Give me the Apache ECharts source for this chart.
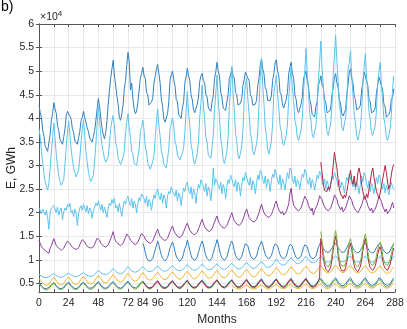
<!DOCTYPE html>
<html>
<head>
<meta charset="utf-8">
<script src="https://cdn.jsdelivr.net/npm/echarts@6/dist/echarts.min.js"></script>
<style>
  html, body { margin: 0; padding: 0; background: #fff; }
  #chart { width: 407px; height: 329px; }
</style>
</head>
<body>
<div id="chart"></div>
<script>
// x tick labels shown (ticks every 12 months), y ticks in units of 10^4 GWh
const xTickLabels = [0, 24, 48, 72, 84, 96, 120, 144, 168, 192, 216, 240, 264, 288]
const yTicks = [0.5, 1, 1.5, 2, 2.5, 3, 3.5, 4, 4.5, 5, 5.5, 6]

// monthly values, 10^4 GWh, one row per year
const blueTop = [
  [4.28,4.12,4.02,3.75,3.62,3.41,3.38,3.30,3.49,3.66,3.97,4.10],
  [4.33,4.20,4.10,3.85,3.74,3.55,3.52,3.45,3.60,3.78,4.05,4.15],
  [4.17,4.05,3.98,3.78,3.70,3.52,3.50,3.45,3.58,3.72,3.95,4.02],
  [4.15,4.02,4.00,3.80,3.72,3.58,3.55,3.50,3.62,3.74,3.95,4.20],
  [4.42,4.25,4.00,3.80,3.65,3.57,3.70,3.95,4.30,4.60,4.85,5.05],
  [5.23,4.92,4.95,4.48,4.30,4.02,3.96,4.10,4.28,4.62,4.80,5.12],
  [5.40,5.20,4.60,4.75,4.40,4.20,4.10,4.15,4.35,4.60,4.85,4.95],
  [5.08,4.90,4.85,4.55,4.50,4.28,4.24,4.35,4.42,4.75,4.88,5.05],
  [5.14,4.95,4.75,4.40,4.25,3.98,3.92,3.89,4.10,4.35,4.80,4.92],
  [5.00,4.82,4.70,4.40,4.35,4.08,4.05,4.00,4.22,4.35,4.75,4.88],
  [5.06,4.90,4.80,4.50,4.40,4.18,4.12,4.10,4.30,4.45,4.78,4.90],
  [4.95,4.80,4.75,4.50,4.45,4.22,4.18,4.15,4.35,4.48,4.85,4.98],
  [5.19,5.00,4.90,4.55,4.45,4.22,4.20,4.17,4.35,4.50,4.85,4.92],
  [5.06,4.90,4.85,4.55,4.50,4.28,4.27,4.32,4.42,4.70,4.82,4.98],
  [5.00,4.85,4.80,4.50,4.45,4.28,4.25,4.30,4.38,4.70,4.85,5.12],
  [5.27,5.05,4.95,4.65,4.60,4.38,4.34,4.38,4.48,4.80,4.95,5.18],
  [5.24,5.00,4.90,4.55,4.50,4.28,4.22,4.20,4.40,4.55,4.95,5.08],
  [5.19,4.95,4.85,4.50,4.40,4.18,4.12,4.10,4.30,4.45,4.85,4.92],
  [5.00,4.80,4.70,4.40,4.30,4.08,4.05,4.03,4.25,4.35,4.70,4.78],
  [4.90,4.72,4.65,4.40,4.35,4.12,4.10,4.15,4.22,4.50,4.65,4.88],
  [4.95,4.75,4.65,4.40,4.30,4.10,4.05,4.12,4.18,4.50,4.70,4.98],
  [5.05,4.85,4.75,4.45,4.40,4.18,4.15,4.22,4.28,4.60,4.75,4.98],
  [4.95,4.80,4.70,4.40,4.35,4.12,4.10,4.15,4.22,4.55,4.70,4.88],
  [4.90,4.70,4.60,4.30,4.25,4.02,4.00,4.08,4.15,4.40,4.45,4.63]
].flat()

const skyTop = [
  [3.79,3.60,3.30,3.05,2.82,2.65,2.55,2.48,2.62,2.94,3.29,3.60],
  [3.90,3.56,3.23,2.98,2.79,2.66,2.58,2.55,2.71,3.02,3.39,3.70],
  [3.95,3.65,3.35,3.13,2.96,2.84,2.76,2.74,2.89,3.16,3.49,3.77],
  [3.97,3.64,3.30,3.06,2.87,2.74,2.66,2.63,2.79,3.10,3.46,3.85],
  [4.25,3.95,3.65,3.43,3.27,3.15,3.07,3.05,3.19,3.47,3.79,3.95],
  [4.06,3.85,3.48,3.38,3.15,3.12,3.02,3.00,3.18,3.32,3.70,3.92],
  [4.10,3.78,3.60,3.30,3.25,3.05,3.02,3.00,3.18,3.35,3.72,3.82],
  [3.96,3.75,3.38,3.28,3.05,3.02,2.92,2.90,3.08,3.22,3.60,3.92],
  [4.20,3.85,3.62,3.30,3.22,3.02,2.98,2.95,3.15,3.35,3.78,3.88],
  [4.01,3.82,3.52,3.42,3.22,3.20,3.12,3.10,3.26,3.38,3.70,4.18],
  [4.57,4.12,3.85,3.45,3.32,3.10,3.03,3.00,3.25,3.50,4.02,4.32],
  [4.71,4.28,3.98,3.60,3.48,3.22,3.18,3.15,3.40,3.65,4.18,4.52],
  [4.92,4.40,4.02,3.56,3.40,3.12,3.04,3.00,3.30,3.62,4.25,4.66],
  [5.10,4.55,4.16,3.70,3.50,3.22,3.14,3.10,3.40,3.75,4.40,4.72],
  [4.85,4.40,4.08,3.68,3.55,3.30,3.23,3.20,3.46,3.72,4.28,4.88],
  [5.28,4.70,4.30,3.82,3.62,3.34,3.24,3.20,3.52,3.88,4.55,4.72],
  [4.92,4.50,4.22,3.84,3.72,3.48,3.43,3.40,3.64,3.88,4.40,4.78],
  [5.10,4.65,4.36,3.96,3.84,3.60,3.53,3.50,3.75,4.00,4.55,4.98],
  [5.48,4.95,4.58,4.12,3.95,3.66,3.59,3.55,3.84,4.18,4.80,5.18],
  [5.64,5.08,4.68,4.20,4.02,3.72,3.64,3.60,3.90,4.26,4.92,5.32],
  [5.76,5.20,4.80,4.30,4.12,3.82,3.74,3.70,4.00,4.36,5.04,5.18],
  [5.44,4.90,4.52,4.08,3.90,3.62,3.54,3.50,3.80,4.12,4.76,5.08],
  [5.37,4.88,4.54,4.12,3.98,3.70,3.64,3.60,3.86,4.16,4.76,4.98],
  [5.19,4.72,4.40,4.00,3.85,3.60,3.53,3.50,3.76,4.04,4.60,4.90]
].flat()

const skyMid = [
  [2.10,2.05,1.98,2.08,2.02,1.95,2.05,1.90,1.65,2.00,2.10,2.12],
  [2.15,2.08,2.00,2.12,1.95,2.05,2.10,1.85,2.02,2.10,2.05,2.18],
  [2.12,2.20,2.00,2.05,1.92,2.08,2.00,1.73,1.98,2.10,2.15,2.05],
  [2.18,2.10,2.02,2.15,1.98,2.10,2.05,1.88,2.05,2.12,2.20,2.15],
  [2.25,2.15,2.05,2.18,2.00,2.12,2.08,1.90,2.10,2.20,2.15,2.28],
  [2.20,2.30,2.10,2.15,2.02,2.20,2.05,1.92,2.12,2.25,2.18,2.30],
  [2.35,2.22,2.15,2.30,2.10,2.25,2.18,2.00,2.20,2.32,2.25,2.40],
  [2.38,2.30,2.20,2.35,2.12,2.28,2.22,2.05,2.25,2.38,2.30,2.45],
  [2.50,2.35,2.28,2.42,2.20,2.38,2.30,2.10,2.35,2.45,2.40,2.55],
  [2.55,2.40,2.35,2.48,2.25,2.42,2.35,2.15,2.40,2.52,2.45,2.60],
  [2.65,2.48,2.40,2.55,2.30,2.50,2.42,2.20,2.45,2.60,2.52,2.70],
  [2.68,2.55,2.45,2.62,2.35,2.55,2.48,2.25,2.50,2.95,2.58,2.72],
  [2.75,2.58,2.50,2.65,2.40,2.60,2.52,2.30,2.55,2.70,2.62,2.80],
  [2.80,2.62,2.55,2.70,2.45,2.65,2.58,2.35,2.60,2.75,2.68,2.85],
  [2.82,2.65,2.58,2.75,2.48,2.68,2.60,2.40,2.62,2.80,2.70,2.90],
  [2.85,2.70,2.62,2.78,2.52,2.72,2.65,2.45,2.68,2.82,2.75,2.92],
  [2.88,2.70,2.60,2.80,2.50,2.72,2.62,2.48,2.70,2.85,2.72,2.95],
  [2.90,2.72,2.62,2.78,2.55,2.70,2.65,2.50,2.68,2.82,2.75,2.92],
  [2.85,2.68,2.60,2.75,2.52,2.70,2.62,2.48,2.65,2.80,2.72,2.88],
  [2.82,2.65,2.58,2.72,2.50,2.68,2.60,2.45,2.62,2.78,2.70,2.85],
  [2.85,2.68,2.55,2.70,2.52,2.65,2.58,2.42,2.60,2.75,2.68,2.82],
  [2.80,2.62,2.55,2.70,2.48,2.65,2.55,2.40,2.62,2.78,2.65,2.85],
  [2.78,2.62,2.52,2.68,2.45,2.62,2.55,2.40,2.58,2.75,2.62,2.80],
  [2.75,2.58,2.50,2.62,2.42,2.58,2.50,2.38,2.52,2.65,2.55,2.50]
].flat()

const purple = [
  [1.42,1.35,1.28,1.30,1.22,1.25,1.18,1.20,1.14,1.25,1.30,1.38],
  [1.45,1.38,1.30,1.33,1.25,1.28,1.20,1.22,1.25,1.30,1.35,1.40],
  [1.42,1.35,1.30,1.32,1.25,1.27,1.22,1.24,1.26,1.32,1.38,1.43],
  [1.45,1.38,1.32,1.35,1.27,1.30,1.25,1.26,1.28,1.33,1.40,1.46],
  [1.50,1.42,1.35,1.38,1.30,1.33,1.27,1.29,1.32,1.38,1.45,1.52],
  [1.60,1.48,1.40,1.42,1.34,1.36,1.30,1.32,1.35,1.42,1.48,1.55],
  [1.56,1.48,1.42,1.45,1.36,1.38,1.32,1.34,1.38,1.44,1.50,1.56],
  [1.58,1.50,1.44,1.47,1.38,1.41,1.35,1.37,1.40,1.47,1.53,1.60],
  [1.65,1.56,1.50,1.53,1.44,1.47,1.41,1.43,1.46,1.53,1.60,1.66],
  [1.72,1.63,1.57,1.60,1.50,1.54,1.47,1.50,1.53,1.60,1.66,1.73],
  [1.78,1.70,1.63,1.66,1.56,1.60,1.53,1.56,1.59,1.66,1.72,1.80],
  [1.86,1.77,1.70,1.73,1.63,1.67,1.60,1.63,1.66,1.73,1.80,1.87],
  [1.93,1.84,1.77,1.80,1.70,1.74,1.67,1.70,1.73,1.80,1.86,1.94],
  [2.00,1.90,1.83,1.86,1.76,1.80,1.73,1.76,1.79,1.86,1.93,2.02],
  [2.08,1.98,1.90,1.94,1.83,1.87,1.80,1.83,1.86,1.93,2.00,2.10],
  [2.18,2.08,2.00,2.04,1.93,1.97,1.90,1.93,1.96,2.03,2.10,2.20],
  [2.25,2.14,2.06,2.10,1.98,2.03,1.95,1.98,2.02,2.10,2.18,2.40],
  [2.52,2.30,2.16,2.20,2.08,2.12,2.04,2.07,2.10,2.18,2.26,2.35],
  [2.38,2.26,2.15,2.18,2.04,2.10,1.95,2.05,2.08,2.16,2.24,2.36],
  [2.40,2.28,2.18,2.22,2.08,2.12,2.04,2.07,2.10,2.18,2.26,2.38],
  [2.42,2.28,2.18,2.20,2.06,2.12,2.02,2.06,2.10,2.18,2.26,2.36],
  [2.40,2.26,2.16,2.20,2.06,2.10,2.00,2.05,2.08,2.16,2.25,2.35],
  [2.38,2.25,2.15,2.18,2.04,2.10,2.00,2.04,2.08,2.15,2.24,2.34],
  [2.36,2.24,2.14,2.16,2.02,2.08,1.98,2.02,2.06,2.14,2.22,2.10]
].flat()

// starts at month 228
const redHigh = [
  [3.07,2.85,2.60,2.47,2.50,2.45,2.55,2.48,2.60,2.75,3.00,3.28],
  [3.10,2.95,2.70,2.50,2.40,2.35,2.30,2.38,2.32,2.45,2.60,2.75],
  [2.90,2.70,2.60,2.78,2.55,2.62,2.85,2.95,2.80,2.60,2.45,2.35],
  [2.28,2.40,2.32,2.50,2.65,2.85,2.95,2.75,2.60,2.45,2.38,2.30],
  [2.42,2.55,2.70,2.85,3.00,2.85,2.65,2.50,2.60,2.80,2.95,3.02]
].flat()

// starts at month 84
const blueLow = [
  [1.35,1.28,1.15,1.05,1.00,0.98,0.97,0.99,1.03,1.12,1.22,1.30],
  [1.40,1.32,1.20,1.10,1.03,1.00,0.98,1.00,1.05,1.15,1.25,1.32],
  [1.38,1.30,1.18,1.08,1.02,0.99,0.97,0.99,1.04,1.14,1.24,1.30],
  [1.42,1.33,1.20,1.10,1.03,1.00,0.99,1.01,1.06,1.16,1.26,1.34],
  [1.40,1.32,1.19,1.09,1.03,1.00,0.98,1.00,1.05,1.15,1.25,1.33],
  [1.43,1.34,1.21,1.11,1.04,1.01,0.99,1.01,1.06,1.16,1.27,1.35],
  [1.40,1.32,1.20,1.10,1.04,1.01,1.00,1.02,1.07,1.17,1.27,1.34],
  [1.38,1.30,1.19,1.10,1.04,1.02,1.01,1.03,1.08,1.18,1.28,1.33],
  [1.40,1.32,1.21,1.12,1.06,1.03,1.02,1.04,1.09,1.18,1.28,1.34],
  [1.37,1.30,1.20,1.11,1.06,1.03,1.02,1.04,1.08,1.17,1.27,1.33],
  [1.36,1.29,1.19,1.11,1.05,1.03,1.02,1.03,1.08,1.17,1.26,1.32],
  [1.35,1.28,1.18,1.10,1.05,1.03,1.02,1.04,1.08,1.17,1.27,1.33],
  [1.38,1.32,1.25,1.20,1.18,1.16,1.15,1.17,1.20,1.25,1.30,1.35],
  [1.38,1.33,1.26,1.21,1.18,1.16,1.15,1.17,1.20,1.26,1.31,1.36],
  [1.37,1.32,1.25,1.20,1.17,1.15,1.14,1.16,1.19,1.25,1.30,1.35],
  [1.38,1.32,1.25,1.20,1.17,1.15,1.14,1.16,1.20,1.26,1.31,1.35],
  [1.36,1.31,1.24,1.19,1.16,1.14,1.13,1.15,1.19,1.25,1.30,1.35]
].flat()

const skyLow = [
  [0.69,0.68,0.66,0.64,0.63,0.62,0.62,0.63,0.64,0.66,0.68,0.70],
  [0.71,0.70,0.67,0.65,0.64,0.63,0.63,0.64,0.65,0.67,0.69,0.71],
  [0.72,0.70,0.68,0.66,0.65,0.64,0.64,0.65,0.66,0.68,0.70,0.72],
  [0.73,0.71,0.69,0.67,0.66,0.65,0.65,0.66,0.67,0.69,0.72,0.76],
  [0.78,0.76,0.73,0.71,0.70,0.69,0.69,0.70,0.71,0.73,0.76,0.79],
  [0.82,0.79,0.76,0.74,0.72,0.71,0.71,0.72,0.73,0.76,0.79,0.82],
  [0.86,0.83,0.79,0.77,0.75,0.74,0.74,0.75,0.76,0.78,0.81,0.84],
  [0.86,0.84,0.80,0.78,0.76,0.75,0.75,0.76,0.77,0.79,0.82,0.85],
  [0.87,0.85,0.81,0.79,0.77,0.76,0.76,0.77,0.78,0.80,0.83,0.86],
  [0.88,0.86,0.82,0.80,0.78,0.77,0.77,0.78,0.79,0.81,0.84,0.87],
  [0.90,0.87,0.84,0.81,0.79,0.78,0.78,0.79,0.80,0.83,0.86,0.89],
  [0.91,0.88,0.85,0.82,0.80,0.79,0.79,0.80,0.81,0.84,0.87,0.90],
  [0.92,0.90,0.86,0.83,0.81,0.80,0.80,0.81,0.82,0.85,0.88,0.91],
  [0.93,0.91,0.87,0.84,0.82,0.81,0.81,0.82,0.83,0.86,0.89,0.92],
  [0.95,0.92,0.88,0.85,0.83,0.82,0.82,0.83,0.85,0.88,0.91,0.94],
  [0.97,0.94,0.90,0.87,0.85,0.84,0.84,0.85,0.87,0.90,0.94,0.98],
  [1.02,0.99,0.95,0.92,0.90,0.89,0.89,0.90,0.92,0.95,0.99,1.03],
  [1.05,1.02,0.98,0.95,0.93,0.92,0.92,0.93,0.95,0.98,1.02,1.05],
  [1.07,1.04,1.00,0.97,0.95,0.94,0.94,0.95,0.96,0.99,1.03,1.06],
  [1.08,1.05,1.01,0.98,0.96,0.95,0.95,0.96,0.97,1.00,1.04,1.07],
  [1.09,1.06,1.02,0.99,0.97,0.96,0.96,0.97,0.98,1.01,1.05,1.08],
  [1.08,1.05,1.01,0.98,0.96,0.95,0.95,0.96,0.97,1.00,1.04,1.07],
  [1.08,1.05,1.01,0.98,0.96,0.95,0.95,0.96,0.97,1.00,1.04,1.07],
  [1.07,1.04,1.00,0.97,0.95,0.94,0.94,0.95,0.96,0.99,1.03,1.08]
].flat()

const yellow = [
  [0.61,0.58,0.54,0.50,0.48,0.47,0.46,0.47,0.49,0.53,0.57,0.60],
  [0.63,0.60,0.56,0.52,0.49,0.48,0.47,0.48,0.50,0.54,0.58,0.62],
  [0.64,0.61,0.57,0.53,0.50,0.49,0.48,0.49,0.51,0.55,0.59,0.63],
  [0.65,0.62,0.58,0.54,0.51,0.50,0.49,0.50,0.52,0.56,0.60,0.64],
  [0.67,0.64,0.60,0.56,0.53,0.52,0.51,0.52,0.54,0.58,0.62,0.66],
  [0.69,0.66,0.62,0.58,0.55,0.54,0.53,0.54,0.56,0.60,0.64,0.68],
  [0.72,0.69,0.64,0.60,0.57,0.56,0.55,0.56,0.58,0.62,0.66,0.70],
  [0.73,0.70,0.66,0.62,0.59,0.58,0.57,0.58,0.60,0.64,0.68,0.71],
  [0.74,0.71,0.67,0.63,0.60,0.59,0.58,0.59,0.61,0.65,0.69,0.72],
  [0.75,0.72,0.68,0.64,0.61,0.60,0.59,0.60,0.62,0.66,0.70,0.73],
  [0.76,0.73,0.69,0.65,0.62,0.61,0.60,0.61,0.63,0.67,0.71,0.74],
  [0.77,0.74,0.70,0.66,0.63,0.62,0.61,0.62,0.64,0.68,0.72,0.75],
  [0.78,0.75,0.71,0.67,0.64,0.63,0.62,0.63,0.65,0.69,0.73,0.76],
  [0.79,0.76,0.72,0.68,0.65,0.64,0.63,0.64,0.66,0.70,0.74,0.77],
  [0.80,0.77,0.73,0.69,0.66,0.65,0.64,0.65,0.67,0.71,0.75,0.78],
  [0.82,0.79,0.75,0.71,0.68,0.67,0.66,0.67,0.69,0.73,0.77,0.80],
  [0.84,0.81,0.77,0.73,0.70,0.69,0.68,0.69,0.71,0.75,0.79,0.82],
  [0.86,0.83,0.79,0.75,0.72,0.71,0.70,0.71,0.73,0.77,0.81,0.84],
  [0.87,0.84,0.80,0.76,0.73,0.72,0.71,0.72,0.74,0.78,0.82,0.85],
  [0.88,0.85,0.81,0.77,0.74,0.73,0.72,0.73,0.75,0.79,0.83,0.86],
  [0.89,0.86,0.82,0.78,0.75,0.74,0.73,0.74,0.76,0.80,0.84,0.87],
  [0.88,0.85,0.81,0.77,0.74,0.73,0.72,0.73,0.75,0.79,0.83,0.86],
  [0.88,0.85,0.81,0.77,0.74,0.73,0.72,0.73,0.75,0.79,0.83,0.86],
  [0.87,0.84,0.80,0.76,0.73,0.72,0.71,0.72,0.74,0.78,0.82,0.85]
].flat()

const green = [
  [0.50,0.47,0.43,0.40,0.38,0.37,0.36,0.37,0.39,0.42,0.46,0.49],
  [0.50,0.48,0.44,0.40,0.38,0.37,0.37,0.38,0.40,0.43,0.46,0.49],
  [0.51,0.48,0.44,0.41,0.38,0.37,0.37,0.38,0.40,0.43,0.47,0.50],
  [0.51,0.48,0.44,0.41,0.39,0.38,0.37,0.38,0.40,0.43,0.47,0.50],
  [0.52,0.49,0.45,0.41,0.39,0.38,0.38,0.39,0.41,0.44,0.48,0.51],
  [0.52,0.49,0.45,0.42,0.39,0.38,0.38,0.39,0.41,0.44,0.48,0.51],
  [0.53,0.50,0.46,0.42,0.40,0.39,0.38,0.39,0.41,0.45,0.48,0.52],
  [0.53,0.50,0.46,0.42,0.40,0.39,0.38,0.39,0.42,0.45,0.49,0.52],
  [0.54,0.51,0.46,0.43,0.40,0.39,0.39,0.40,0.42,0.45,0.49,0.53],
  [0.54,0.51,0.47,0.43,0.41,0.40,0.39,0.40,0.42,0.46,0.50,0.53],
  [0.55,0.52,0.47,0.43,0.41,0.40,0.39,0.40,0.43,0.46,0.50,0.54],
  [0.55,0.52,0.47,0.44,0.41,0.40,0.40,0.41,0.43,0.46,0.50,0.54],
  [0.56,0.52,0.48,0.44,0.42,0.40,0.40,0.41,0.43,0.47,0.51,0.55],
  [0.56,0.53,0.48,0.44,0.42,0.41,0.40,0.41,0.44,0.47,0.51,0.55],
  [0.57,0.53,0.48,0.45,0.42,0.41,0.40,0.41,0.44,0.47,0.52,0.56],
  [0.57,0.54,0.49,0.45,0.42,0.41,0.41,0.42,0.44,0.48,0.52,0.56],
  [0.58,0.54,0.49,0.45,0.43,0.41,0.41,0.42,0.44,0.48,0.52,0.57],
  [0.58,0.54,0.49,0.46,0.43,0.42,0.41,0.42,0.45,0.48,0.53,0.57],
  [0.58,0.55,0.50,0.46,0.43,0.42,0.41,0.42,0.45,0.49,0.53,0.57],
  [0.58,0.55,0.50,0.46,0.43,0.42,0.42,0.43,0.45,0.49,0.53,0.57],
  [0.59,0.55,0.50,0.46,0.44,0.42,0.42,0.43,0.45,0.49,0.53,0.58],
  [0.59,0.55,0.50,0.46,0.44,0.42,0.42,0.43,0.45,0.49,0.54,0.58],
  [0.59,0.55,0.50,0.47,0.44,0.43,0.42,0.43,0.46,0.49,0.54,0.58],
  [0.59,0.56,0.51,0.47,0.44,0.43,0.42,0.43,0.46,0.50,0.54,0.58]
].flat()

const blueBottom = [
  [0.52,0.49,0.45,0.42,0.40,0.39,0.39,0.40,0.42,0.45,0.48,0.51],
  [0.52,0.50,0.46,0.42,0.40,0.39,0.39,0.40,0.42,0.45,0.49,0.52],
  [0.53,0.50,0.46,0.43,0.41,0.40,0.39,0.40,0.42,0.46,0.49,0.52],
  [0.53,0.50,0.46,0.43,0.41,0.40,0.40,0.41,0.43,0.46,0.49,0.53],
  [0.54,0.51,0.47,0.43,0.41,0.40,0.40,0.41,0.43,0.46,0.50,0.53],
  [0.54,0.51,0.47,0.44,0.42,0.41,0.40,0.41,0.43,0.47,0.50,0.54],
  [0.55,0.52,0.47,0.44,0.42,0.41,0.41,0.42,0.44,0.47,0.51,0.54],
  [0.55,0.52,0.48,0.44,0.42,0.41,0.41,0.42,0.44,0.47,0.51,0.55],
  [0.56,0.53,0.48,0.45,0.43,0.42,0.41,0.42,0.44,0.48,0.52,0.55],
  [0.56,0.53,0.49,0.45,0.43,0.42,0.42,0.43,0.45,0.48,0.52,0.56],
  [0.57,0.54,0.49,0.46,0.43,0.42,0.42,0.43,0.45,0.49,0.53,0.56],
  [0.57,0.54,0.50,0.46,0.44,0.43,0.42,0.43,0.45,0.49,0.53,0.57],
  [0.58,0.55,0.50,0.46,0.44,0.43,0.43,0.44,0.46,0.50,0.54,0.57],
  [0.58,0.55,0.50,0.47,0.44,0.43,0.43,0.44,0.46,0.50,0.54,0.58],
  [0.59,0.56,0.51,0.47,0.45,0.44,0.43,0.44,0.47,0.50,0.55,0.58],
  [0.60,0.56,0.51,0.48,0.45,0.44,0.44,0.45,0.47,0.51,0.55,0.59],
  [0.60,0.57,0.52,0.48,0.46,0.44,0.44,0.45,0.47,0.51,0.56,0.60],
  [0.61,0.57,0.52,0.48,0.46,0.45,0.44,0.45,0.48,0.52,0.56,0.60],
  [0.61,0.58,0.53,0.49,0.46,0.45,0.45,0.46,0.48,0.52,0.56,0.61],
  [0.62,0.58,0.53,0.49,0.47,0.45,0.45,0.46,0.48,0.52,0.57,0.61],
  [0.62,0.58,0.53,0.49,0.47,0.46,0.45,0.46,0.49,0.53,0.57,0.61],
  [0.62,0.58,0.53,0.50,0.47,0.46,0.45,0.46,0.49,0.53,0.57,0.61],
  [0.62,0.59,0.54,0.50,0.47,0.46,0.46,0.47,0.49,0.53,0.57,0.62],
  [0.62,0.59,0.54,0.50,0.48,0.46,0.46,0.47,0.49,0.53,0.58,0.62]
].flat()

// starts at month 84
const redLow = [
  [0.54,0.51,0.47,0.43,0.41,0.40,0.40,0.41,0.43,0.46,0.50,0.53],
  [0.55,0.52,0.47,0.44,0.41,0.40,0.40,0.41,0.43,0.47,0.50,0.54],
  [0.55,0.52,0.48,0.44,0.42,0.41,0.40,0.41,0.44,0.47,0.51,0.54],
  [0.56,0.53,0.48,0.44,0.42,0.41,0.41,0.42,0.44,0.47,0.51,0.55],
  [0.56,0.53,0.48,0.45,0.42,0.41,0.41,0.42,0.44,0.48,0.52,0.55],
  [0.57,0.53,0.49,0.45,0.43,0.42,0.41,0.42,0.45,0.48,0.52,0.56],
  [0.57,0.54,0.49,0.45,0.43,0.42,0.42,0.43,0.45,0.48,0.52,0.56],
  [0.58,0.54,0.49,0.46,0.43,0.42,0.42,0.43,0.45,0.49,0.53,0.57],
  [0.58,0.55,0.50,0.46,0.44,0.42,0.42,0.43,0.46,0.49,0.53,0.57],
  [0.59,0.55,0.50,0.46,0.44,0.43,0.42,0.43,0.46,0.49,0.54,0.58],
  [0.59,0.55,0.50,0.47,0.44,0.43,0.43,0.44,0.46,0.50,0.54,0.58],
  [0.60,0.56,0.51,0.47,0.44,0.43,0.43,0.44,0.46,0.50,0.55,0.62],
  [1.45,1.28,1.05,0.90,0.80,0.76,0.75,0.78,0.85,1.00,1.20,1.38],
  [1.50,1.35,1.10,0.92,0.82,0.77,0.75,0.77,0.83,0.95,1.12,1.28],
  [1.35,1.22,1.02,0.88,0.80,0.76,0.75,0.78,0.86,1.00,1.20,1.35],
  [1.45,1.32,1.08,0.92,0.83,0.79,0.78,0.80,0.87,0.98,1.12,1.22],
  [1.28,1.18,1.00,0.88,0.82,0.79,0.78,0.82,0.90,1.02,1.15,1.25]
].flat()

// starts at month 156
const yellowLow = [
  [0.46,0.44,0.42,0.40,0.39,0.38,0.38,0.39,0.40,0.42,0.44,0.46],
  [0.47,0.45,0.42,0.40,0.39,0.38,0.38,0.39,0.40,0.42,0.45,0.47],
  [0.47,0.45,0.43,0.41,0.39,0.39,0.38,0.39,0.41,0.43,0.45,0.47],
  [0.48,0.46,0.43,0.41,0.40,0.39,0.39,0.40,0.41,0.43,0.46,0.48],
  [0.48,0.46,0.43,0.41,0.40,0.39,0.39,0.40,0.41,0.44,0.46,0.48],
  [0.49,0.46,0.44,0.42,0.40,0.39,0.39,0.40,0.42,0.44,0.46,0.49],
  [0.49,0.47,0.44,0.42,0.40,0.40,0.39,0.40,0.42,0.44,0.47,0.49],
  [0.49,0.47,0.44,0.42,0.41,0.40,0.40,0.41,0.42,0.44,0.47,0.49],
  [0.50,0.47,0.44,0.42,0.41,0.40,0.40,0.41,0.42,0.45,0.47,0.50],
  [0.50,0.47,0.45,0.42,0.41,0.40,0.40,0.41,0.43,0.45,0.48,0.50],
  [0.50,0.48,0.45,0.43,0.41,0.40,0.40,0.41,0.43,0.45,0.48,0.50]
].flat()

// starts at month 228
const greenHigh = [
  [1.60,1.40,1.15,1.00,0.90,0.86,0.85,0.88,0.95,1.10,1.30,1.50],
  [1.62,1.45,1.20,1.02,0.92,0.87,0.85,0.87,0.93,1.05,1.22,1.38],
  [1.45,1.32,1.12,0.98,0.90,0.86,0.85,0.88,0.96,1.10,1.30,1.45],
  [1.55,1.42,1.18,1.02,0.93,0.89,0.88,0.90,0.97,1.08,1.22,1.32],
  [1.38,1.28,1.10,0.98,0.92,0.89,0.88,0.92,1.00,1.12,1.25,1.35]
].flat()

const pts = (arr, start) => arr.map((v, i) => [start + i, v])

const chart = echarts.init(document.getElementById('chart'))

const line = (data, color, start) => ({
  type: 'line',
  data: pts(data, start),
  showSymbol: false,
  symbol: 'none',
  lineStyle: { color, width: 1 },
  itemStyle: { color },
  silent: true,
  animation: false,
})

const axisColor = '#555'
const font = 'Liberation Sans, Arial, sans-serif'
const labelStyle = { color: '#262626', fontSize: 10.5, fontFamily: font }

chart.setOption({
  animation: false,
  grid: { left: 39, right: 12, top: 24, bottom: 37, containLabel: false, outerBoundsMode: 'none' },
  xAxis: [
    {
      type: 'value', min: 0, max: 288, interval: 12,
      name: 'Months', nameLocation: 'middle', nameGap: 22,
      nameTextStyle: { color: '#262626', fontSize: 12, fontFamily: font },
      axisLine: { show: true, lineStyle: { color: axisColor } },
      axisTick: { show: true, inside: true, length: 3, lineStyle: { color: axisColor } },
      axisLabel: {
        ...labelStyle, margin: 6, showMinLabel: true, showMaxLabel: true,
        formatter: v => xTickLabels.includes(v) ? String(v) : ''
      },
      splitLine: { show: true, lineStyle: { color: '#e8e8e8' } },
    },
    {
      type: 'value', min: 0, max: 288, interval: 12, position: 'top',
      axisLine: { show: true, lineStyle: { color: axisColor } },
      axisTick: { show: true, inside: true, length: 3, lineStyle: { color: axisColor } },
      axisLabel: { show: false },
      splitLine: { show: false },
    }
  ],
  yAxis: [
    {
      type: 'value', min: 0.32, max: 6,
      axisLine: { show: true, lineStyle: { color: axisColor } },
      axisTick: { show: true, inside: true, length: 3, customValues: yTicks, lineStyle: { color: axisColor } },
      axisLabel: { ...labelStyle, margin: 5, customValues: yTicks },
      splitLine: { show: true, lineStyle: { color: '#e8e8e8' } },
    },
    {
      type: 'value', min: 0.32, max: 6, position: 'right',
      axisLine: { show: true, lineStyle: { color: axisColor } },
      axisTick: { show: true, inside: true, length: 3, customValues: yTicks, lineStyle: { color: axisColor } },
      axisLabel: { show: false },
      splitLine: { show: false },
    }
  ],
  graphic: [
    { type: 'text', left: 1, top: 0, style: { text: 'b)', fontSize: 14, fill: '#000', fontFamily: font } },
    {
      type: 'text', left: 40, top: 10,
      style: {
        text: '×10{s|4}', fontSize: 10.5, fill: '#262626', fontFamily: font,
        rich: { s: { fontSize: 8, verticalAlign: 'top', padding: [0, 0, 6, 0], fill: '#262626' } }
      }
    },
    {
      type: 'text', x: 12, y: 168, rotation: Math.PI / 2,
      style: {
        text: 'E, GWh', fontSize: 12, fill: '#262626', fontFamily: font,
        align: 'center', verticalAlign: 'middle'
      }
    }
  ],
  series: [
    line(blueTop, '#2f7fc1', 0),
    line(skyTop, '#5cc2ee', 0),
    line(skyMid, '#5cc2ee', 0),
    line(purple, '#8a3f9a', 0),
    line(blueLow, '#2f7fc1', 84),
    line(skyLow, '#5cc2ee', 0),
    line(yellow, '#efb52e', 0),
    line(green, '#7db03a', 0),
    line(blueBottom, '#2f7fc1', 0),
    line(redLow, '#b0243f', 84),
    line(yellowLow, '#efb52e', 156),
    line(redHigh, '#b0243f', 228),
    line(greenHigh, '#7db03a', 228),
  ]
})
</script>
</body>
</html>
